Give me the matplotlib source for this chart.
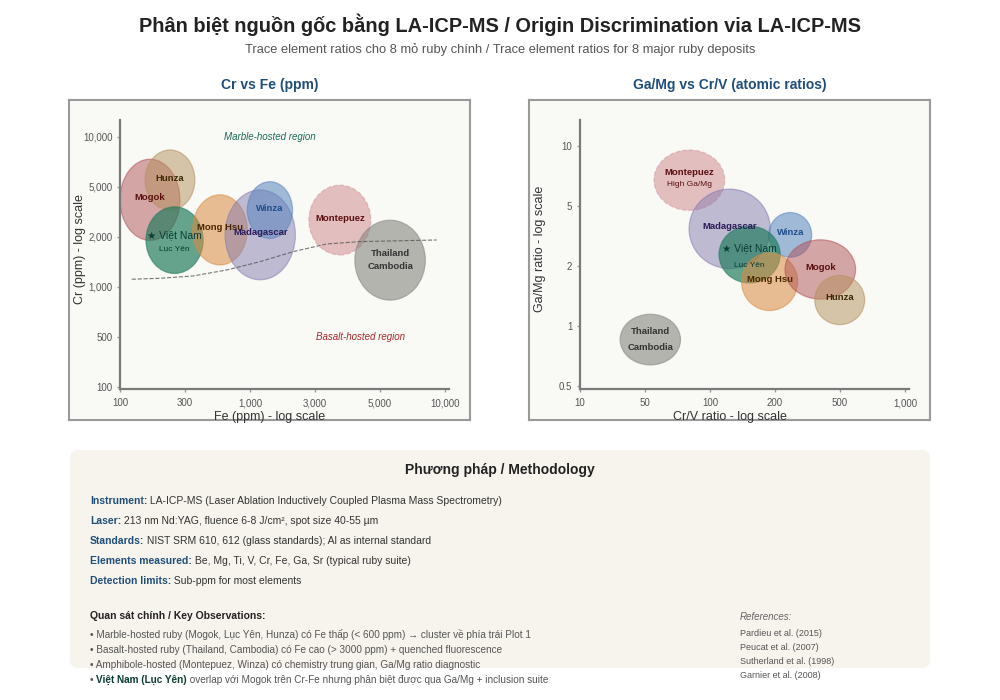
"""
Ruby origin discrimination via LA-ICP-MS trace elements.
Two ellipse plots (Cr vs Fe, Ga/Mg vs Cr/V) plus a methodology panel.
"""
import numpy as np
import matplotlib
matplotlib.use('Agg')
import matplotlib.pyplot as plt
from matplotlib.patches import Ellipse, FancyBboxPatch
from matplotlib.colors import to_rgba

plt.rcParams['font.family'] = ['Liberation Sans', 'DejaVu Sans']

# ---- data -------------------------------------------------------------
deposits = ['Mogok', 'Hunza', 'Việt Nam', 'Mong Hsu', 'Madagascar',
            'Winza', 'Montepuez', 'Thailand']

# Plot 1: Fe / Cr ranges (ppm)
fe_lo = [100, 153, 155, 345, 630, 950, 2700, 4100]
fe_hi = [275, 360, 420, 950, 2150, 2050, 4650, 8100]
cr_lo = [1900, 3250, 1200, 1350, 1100, 1950, 1550, 830]
cr_hi = [7300, 8300, 3450, 4300, 4700, 5350, 5100, 2700]

# Plot 2: Cr/V and Ga/Mg ranges (atomic ratios)
crv_lo = [230, 350, 110, 140, 80, 187, 55, 27]
crv_hi = [590, 650, 215, 275, 190, 335, 117, 73]
gamg_lo = [1.37, 1.02, 1.65, 1.2, 1.95, 2.3, 4.7, 0.64]
gamg_hi = [3.0, 1.8, 3.7, 2.45, 6.1, 4.55, 9.6, 1.15]

# marble / basalt boundary in plot 1
fe_line = [122, 196, 350, 649, 1184, 2080, 3290, 4270, 9140]
cr_line = [1108, 1123, 1160, 1260, 1414, 1625, 1807, 1866, 1909]

fe_ticks = [100, 300, 1000, 3000, 5000, 10000]
cr_ticks = [100, 500, 1000, 2000, 5000, 10000]
crv_ticks = [10, 50, 100, 200, 500, 1000]
gamg_ticks = [0.5, 1, 2, 5, 10]

# ---- styles -----------------------------------------------------------
fill = {'Mogok': ('#b05256', 0.5), 'Hunza': ('#b4905c', 0.5),
        'Việt Nam': ('#1f7a5c', 0.68), 'Mong Hsu': ('#db8b40', 0.55),
        'Madagascar': ('#847cb0', 0.5), 'Winza': ('#5885bf', 0.55),
        'Montepuez': ('#c7777c', 0.45), 'Thailand': ('#878781', 0.6)}
label_color = {'Mogok': '#5c1010', 'Hunza': '#3d2a05', 'Việt Nam': '#0b3d33',
               'Mong Hsu': '#4a2600', 'Madagascar': '#2b1a5a', 'Winza': '#1f4e8c',
               'Montepuez': '#5c0f0f', 'Thailand': '#333333'}
order1 = ['Mogok', 'Hunza', 'Việt Nam', 'Mong Hsu', 'Madagascar', 'Winza',
          'Montepuez', 'Thailand']
order2 = ['Thailand', 'Montepuez', 'Madagascar', 'Winza', 'Việt Nam',
          'Mong Hsu', 'Mogok', 'Hunza']
TITLE_BLUE = '#1f4e79'
W, H = 1000, 700


def to_ix(vals, ticks):
    """Map values onto the evenly spaced log tick positions."""
    return np.interp(np.log10(vals), np.log10(ticks), np.arange(len(ticks)))


def fx(px):
    return px / W


def fy(py):
    return 1 - py / H


fig = plt.figure(figsize=(10, 7), dpi=100)
fig.patch.set_facecolor('white')

fig.text(0.5, fy(25), 'Phân biệt nguồn gốc bằng LA-ICP-MS / Origin Discrimination via LA-ICP-MS',
         ha='center', va='center', fontsize=14.4, fontweight='bold', color='#222222')
fig.text(0.5, fy(50), 'Trace element ratios cho 8 mỏ ruby chính / Trace element ratios for 8 major ruby deposits',
         ha='center', va='center', fontsize=9.3, color='#555555')


def panel(frame_x0, frame_x1, title, xlabel, ylabel, xticks, yticks, ylim_top):
    # outer frame
    fr = fig.add_axes([fx(frame_x0), fy(420), fx(frame_x1 - frame_x0), (420 - 100) / H])
    fr.set_facecolor('#f9f9f6')
    fr.set_xticks([])
    fr.set_yticks([])
    for s in fr.spines.values():
        s.set_color('#9a9a9a')
        s.set_linewidth(1.5)
    fig.text(fx((frame_x0 + frame_x1) / 2), fy(85), title, ha='center', va='center',
             fontsize=10, fontweight='bold', color=TITLE_BLUE)

    ax_x0 = frame_x0 + 51
    ax = fig.add_axes([fx(ax_x0), fy(389), fx(329), 269 / H])
    ax.set_facecolor('none')
    ax.set_xlim(0, 5.06)
    ax.set_ylim(-0.045, ylim_top)
    ax.spines['top'].set_visible(False)
    ax.spines['right'].set_visible(False)
    for s in ('left', 'bottom'):
        ax.spines[s].set_color('#7a7a7a')
        ax.spines[s].set_linewidth(1.6)
    ax.set_xticks(np.arange(len(xticks)))
    ax.set_xticklabels([f'{t:,}' for t in xticks])
    ax.set_yticks(np.arange(len(yticks)))
    ax.set_yticklabels([f'{t:,}' if t >= 1 else f'{t}' for t in yticks])
    ax.tick_params(axis='both', colors='#9a9a9a', labelcolor='#555555',
                   labelsize=7, length=2, width=1)
    ax.tick_params(axis='x', pad=4.5)
    ax.tick_params(axis='y', pad=3.5)
    ax.set_xlabel(xlabel, fontsize=9, color='#333333')
    ax.set_ylabel(ylabel, fontsize=9, color='#333333')
    ax.xaxis.set_label_coords(((frame_x0 + frame_x1) / 2 - ax_x0) / 329, -0.082)
    ax.yaxis.set_label_coords(-(ax_x0 - frame_x0 - 17) / 329, 0.52)
    return ax


def draw_ellipses(ax, order, xlo, xhi, ylo, yhi, xt, yt, extra=None):
    for name in order:
        i = deposits.index(name)
        x0, x1 = to_ix([xlo[i], xhi[i]], xt)
        y0, y1 = to_ix([ylo[i], yhi[i]], yt)
        c, a = fill[name]
        dashed = name == 'Montepuez'
        e = Ellipse(((x0 + x1) / 2, (y0 + y1) / 2), x1 - x0, y1 - y0,
                    facecolor=to_rgba(c, a), edgecolor=to_rgba(c, 0.55 if not dashed else 0.35),
                    linewidth=0.9, linestyle='--' if dashed else '-', zorder=2)
        ax.add_patch(e)
    for name in order:
        i = deposits.index(name)
        cx = to_ix([xlo[i], xhi[i]], xt).mean()
        cy = to_ix([ylo[i], yhi[i]], yt).mean()
        col = label_color[name]
        if name == 'Việt Nam':
            ax.text(cx, cy + 0.1, '★ Việt Nam', ha='center', va='center', fontsize=7.5,
                    color=col, zorder=5)
            ax.text(cx, cy - 0.17, 'Lục Yên', ha='center', va='center', fontsize=6,
                    color=col, zorder=5)
        elif name == 'Thailand':
            ax.text(cx, cy + 0.13, 'Thailand', ha='center', va='center', fontsize=6.8,
                    fontweight='bold', color=col, zorder=5)
            ax.text(cx, cy - 0.13, 'Cambodia', ha='center', va='center', fontsize=6.8,
                    fontweight='bold', color=col, zorder=5)
        elif extra and name in extra:
            ax.text(cx, cy + 0.12, name, ha='center', va='center', fontsize=6.8,
                    fontweight='bold', color=col, zorder=5)
            ax.text(cx, cy - 0.08, extra[name], ha='center', va='center', fontsize=6,
                    color=col, zorder=5)
        else:
            ax.text(cx, cy + 0.04, name, ha='center', va='center', fontsize=6.8,
                    fontweight='bold', color=col, zorder=5)


# ---- Plot 1: Cr vs Fe --------------------------------------------------
ax1 = panel(69, 470, 'Cr vs Fe (ppm)', 'Fe (ppm) - log scale', 'Cr (ppm) - log scale',
            fe_ticks, cr_ticks, 5.33)
draw_ellipses(ax1, order1, fe_lo, fe_hi, cr_lo, cr_hi, fe_ticks, cr_ticks)
ax1.plot(to_ix(fe_line, fe_ticks), to_ix(cr_line, cr_ticks), linestyle='--',
         color='#555555', linewidth=0.8, alpha=0.8, zorder=4)
ax1.text(0.456, 0.938, 'Marble-hosted region', transform=ax1.transAxes, ha='center',
         va='center', fontsize=7, style='italic', color='#1a6b5a')
ax1.text(0.73, 0.194, 'Basalt-hosted region', transform=ax1.transAxes, ha='center',
         va='center', fontsize=7, style='italic', color='#a52a2a')

# ---- Plot 2: Ga/Mg vs Cr/V ---------------------------------------------
ax2 = panel(529, 930, 'Ga/Mg vs Cr/V (atomic ratios)', 'Cr/V ratio - log scale',
            'Ga/Mg ratio - log scale', crv_ticks, gamg_ticks, 4.44)
draw_ellipses(ax2, order2, crv_lo, crv_hi, gamg_lo, gamg_hi, crv_ticks, gamg_ticks,
              extra={'Montepuez': 'High Ga/Mg'})

# ---- Methodology panel -------------------------------------------------
bg = fig.add_axes([0, 0, 1, 1], zorder=-1)
bg.set_axis_off()
bg.set_xlim(0, W)
bg.set_ylim(H, 0)
bg.add_patch(FancyBboxPatch((70, 450), 860, 218, boxstyle='round,pad=0,rounding_size=8',
                            facecolor='#f7f4ee', edgecolor='none'))

fig.text(0.5, fy(470), 'Phương pháp / Methodology', ha='center', va='center',
         fontsize=10, fontweight='bold', color='#222222')

renderer = fig.canvas.get_renderer()


def rich_line(px, py, parts, size):
    x = fx(px)
    for txt, color, weight in parts:
        t = fig.text(x, fy(py), txt, ha='left', va='center', fontsize=size,
                     color=color, fontweight=weight)
        bb = t.get_window_extent(renderer)
        x = bb.x1 / fig.bbox.width


method_lines = [
    ('Instrument:', ' LA-ICP-MS (Laser Ablation Inductively Coupled Plasma Mass Spectrometry)'),
    ('Laser:', ' 213 nm Nd:YAG, fluence 6-8 J/cm², spot size 40-55 µm'),
    ('Standards:', ' NIST SRM 610, 612 (glass standards); Al as internal standard'),
    ('Elements measured:', ' Be, Mg, Ti, V, Cr, Fe, Ga, Sr (typical ruby suite)'),
    ('Detection limits:', ' Sub-ppm for most elements'),
]
for k, (head, body) in enumerate(method_lines):
    rich_line(90, 501 + 20 * k, [(head, TITLE_BLUE, 'bold'), (body, '#333333', 'normal')], 7.5)

fig.text(fx(90), fy(616), 'Quan sát chính / Key Observations:', ha='left', va='center',
         fontsize=7.5, fontweight='bold', color='#222222')
observations = [
    '• Marble-hosted ruby (Mogok, Lục Yên, Hunza) có Fe thấp (< 600 ppm) → cluster về phía trái Plot 1',
    '• Basalt-hosted ruby (Thailand, Cambodia) có Fe cao (> 3000 ppm) + quenched fluorescence',
    '• Amphibole-hosted (Montepuez, Winza) có chemistry trung gian, Ga/Mg ratio diagnostic',
]
for k, line in enumerate(observations):
    fig.text(fx(90), fy(635 + 15 * k), line, ha='left', va='center', fontsize=7.2,
             color='#555555')
rich_line(90, 680, [('• ', '#555555', 'normal'), ('Việt Nam (Lục Yên)', '#0b3d33', 'bold'),
                    (' overlap với Mogok trên Cr-Fe nhưng phân biệt được qua Ga/Mg + inclusion suite',
                     '#555555', 'normal')], 7.2)

fig.text(fx(740), fy(617), 'References:', ha='left', va='center', fontsize=7,
         style='italic', color='#666666')
references = ['Pardieu et al. (2015)', 'Peucat et al. (2007)',
              'Sutherland et al. (1998)', 'Garnier et al. (2008)']
for k, ref in enumerate(references):
    fig.text(fx(740), fy(633 + 14 * k), ref, ha='left', va='center', fontsize=6.5,
             color='#555555')

fig.savefig('out.png', dpi=100, facecolor='white')
